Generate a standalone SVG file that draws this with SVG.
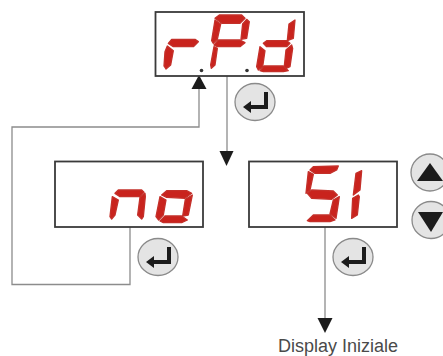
<svg xmlns="http://www.w3.org/2000/svg" width="443" height="356" viewBox="0 0 443 356">
<style>
.box{fill:#fff;stroke:#3a3a3a;stroke-width:1.800}
.seg{fill:#c9231d;stroke:#c4302a;stroke-width:4;stroke-linejoin:round}
.btn{fill:#e4e4e4;stroke:#8a8a8a;stroke-width:1.300}
.wire{fill:none;stroke:#8c8c8c;stroke-width:1.300}
.head{fill:#1c1c1c}
.label{font-family:"Liberation Sans",Arial,sans-serif;font-size:18px;fill:#4a4a4a}
</style>
<defs>
<g id="enter"><path d="M-12 5L-4 -1V3H9V-10H13V7H-4V11Z" fill="#1c1c1c"/></g>
</defs>
<rect width="443" height="356" fill="#fff"/>
<g id="connectors">
<path class="wire" d="M199 88V127H12V284.500H130V227"/>
<path class="wire" d="M227 76V152"/>
<path class="wire" d="M325 227V320"/>
<path class="head" d="M199 75L206.500 89H191.500Z"/>
<path class="head" d="M226.500 166L219.500 151H233.500Z"/>
<path class="head" d="M325 333L317.500 318H332.500Z"/>
</g>
<g id="node-rpd">
<rect class="box" x="155.500" y="12" width="148.500" height="64"/>
<g transform="translate(140 0) scale(.3333)">
<path class="seg" d="M85 130L95 118H165L175 125L160 140H100Z"/>
<path class="seg" d="M75 155L82 138L100 152L92 195L78 207L72 198Z"/>
<path class="seg" d="M225 55L238 45H305L315 55L300 70H245Z"/>
<path class="seg" d="M225 60L242 72L232 118L220 130L215 122Z"/>
<path class="seg" d="M320 58L328 65L320 115L303 118L308 72Z"/>
<path class="seg" d="M222 135L235 120H300L315 128L300 140H232Z"/>
<path class="seg" d="M222 140L232 145L225 195L214 205L212 195Z"/>
<path class="seg" d="M465 60L460 115L442 122L447 72Z"/>
<path class="seg" d="M370 130L380 122H440L450 130L440 140H380Z"/>
<path class="seg" d="M360 140L375 152L368 200L355 210L350 200Z"/>
<path class="seg" d="M455 135L458 145L450 200L432 208L438 150Z"/>
<path class="seg" d="M360 212L372 198H430L445 212L430 215H370Z"/>
</g>
<circle cx="201.500" cy="70.500" r="1.800" fill="#333"/>
<circle cx="247" cy="70.500" r="1.800" fill="#333"/>
</g>
<g id="button-rpd">
<ellipse class="btn" cx="255" cy="102" rx="20" ry="18.500"/>
<use href="#enter" x="255" y="102"/>
</g>
<g id="node-no">
<rect class="box" x="55" y="161.500" width="148" height="65.500"/>
<g transform="translate(0 140) scale(.3333)">
<path class="seg" d="M345 160L355 150H425L432 157L420 170H360Z"/>
<path class="seg" d="M337 170L355 180L345 225L335 237L330 230Z"/>
<path class="seg" d="M435 160L436 170L430 230L425 237L413 225L420 172Z"/>
<path class="seg" d="M485 165L500 152H560L575 160L555 175L500 172Z"/>
<path class="seg" d="M480 170L498 180L490 225L476 240L468 230Z"/>
<path class="seg" d="M577 165L575 175L565 225L548 228L556 178Z"/>
<path class="seg" d="M480 243L495 228H545L562 240L545 248H490Z"/>
</g>
</g>
<g id="button-no">
<ellipse class="btn" cx="158" cy="257" rx="20" ry="18.500"/>
<use href="#enter" x="158" y="257"/>
</g>
<g id="node-si">
<rect class="box" x="249" y="161.500" width="148" height="65.500"/>
<g transform="translate(230 140) scale(.3333)">
<path class="seg" d="M240 90L250 80L325 78L320 90L300 100H255Z"/>
<path class="seg" d="M235 95L250 103L240 150L228 160Z"/>
<path class="seg" d="M232 160L245 150L310 153L322 165L305 178L245 175Z"/>
<path class="seg" d="M328 170L325 190L318 235L300 222L310 180Z"/>
<path class="seg" d="M232 242L250 225H300L315 240L300 245H240Z"/>
<path class="seg" d="M378 100L395 92L390 150L370 165Z"/>
<path class="seg" d="M368 175L385 165L388 170L382 225L365 235Z"/>
</g>
</g>
<g id="button-si">
<ellipse class="btn" cx="353" cy="257" rx="20" ry="18.500"/>
<use href="#enter" x="353" y="257"/>
</g>
<g id="button-up">
<ellipse class="btn" cx="430" cy="172.500" rx="19" ry="18.500"/>
<path class="head" d="M430 163L443 181H417Z"/>
</g>
<g id="button-down">
<ellipse class="btn" cx="431" cy="220" rx="19" ry="18.500"/>
<path class="head" d="M431 232L418 212H443Z"/>
</g>
<g id="node-display">
<text class="label" x="278" y="351.500">Display Iniziale</text>
</g>
</svg>
